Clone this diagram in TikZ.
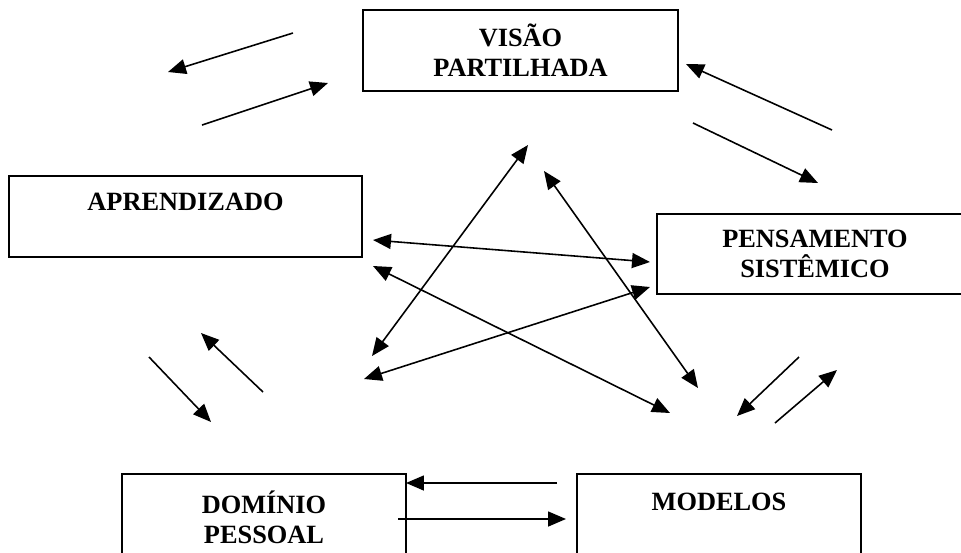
\documentclass[tikz,border=0pt]{standalone}
\usepackage{fontspec}
\setmainfont{Liberation Serif}
\usetikzlibrary{shapes,arrows.meta}
\tikzstyle{block} = [draw, fill=white, rectangle, line width=0.9pt, align=center, inner sep=0pt]
\tikzstyle{link} = [->, line width=0.9pt]
\tikzstyle{both} = [<->, line width=0.9pt]
\begin{document}
\begin{tikzpicture}[x=0.02cm, y=-0.02cm, >={Triangle[length=3.6mm, width=3mm]}]
    \tikzset{font={\fontsize{15pt}{17pt}\selectfont\bfseries}}
    \clip (0,0) rectangle (961,552);
    \node [block, minimum width=6.3cm, minimum height=1.62cm] (visao) at (520.5,50.5) {VISÃO\\ PARTILHADA};
    \node [block, minimum width=7.06cm, minimum height=1.62cm] (aprend) at (185.5,216.5) {APRENDIZADO\\ ~};
    \node [block, minimum width=6.32cm, minimum height=1.6cm] (pensam) at (815,254) {PENSAMENTO\\ SISTÊMICO};
    \node [block, minimum width=5.68cm, minimum height=1.72cm] (dominio) at (264,517) {DOMÍNIO\\ PESSOAL};
    \node [block, minimum width=5.68cm, minimum height=1.72cm] (modelos) at (719,517) {MODELOS\\ ~};
    % free ends of the arrows
    \coordinate (va1) at (293,33);  \coordinate (va2) at (168,72);
    \coordinate (av1) at (202,125); \coordinate (av2) at (328,83);
    \coordinate (pv1) at (832,130); \coordinate (pv2) at (686,64);
    \coordinate (vp1) at (693,123); \coordinate (vp2) at (818,183);
    \coordinate (ad1) at (149,357); \coordinate (ad2) at (211,422);
    \coordinate (da1) at (263,392); \coordinate (da2) at (201,333);
    \coordinate (pm1) at (799,357); \coordinate (pm2) at (737,416);
    \coordinate (mp1) at (775,423); \coordinate (mp2) at (837,370);
    \coordinate (md1) at (557,483); \coordinate (md2) at (406,483);
    \coordinate (dm1) at (398,519); \coordinate (dm2) at (566,519);
    \coordinate (x1) at (528,145); \coordinate (x2) at (372,356);
    \coordinate (y1) at (544,171); \coordinate (y2) at (698,388);
    \coordinate (z1) at (373,240); \coordinate (z2) at (650,262);
    \coordinate (u1) at (373,266); \coordinate (u2) at (670,413);
    \coordinate (w1) at (650,287); \coordinate (w2) at (364,379);
    \draw [link] (va1) -- (va2);
    \draw [link] (av1) -- (av2);
    \draw [link] (pv1) -- (pv2);
    \draw [link] (vp1) -- (vp2);
    \draw [link] (ad1) -- (ad2);
    \draw [link] (da1) -- (da2);
    \draw [link] (pm1) -- (pm2);
    \draw [link] (mp1) -- (mp2);
    \draw [link] (md1) -- (md2);
    \draw [link] (dm1) -- (dm2);
    % crossing arrows in the middle
    \draw [both] (x1) -- (x2);
    \draw [both] (y1) -- (y2);
    \draw [both] (z1) -- (z2);
    \draw [both] (u1) -- (u2);
    \draw [both] (w1) -- (w2);
\end{tikzpicture}
\end{document}
